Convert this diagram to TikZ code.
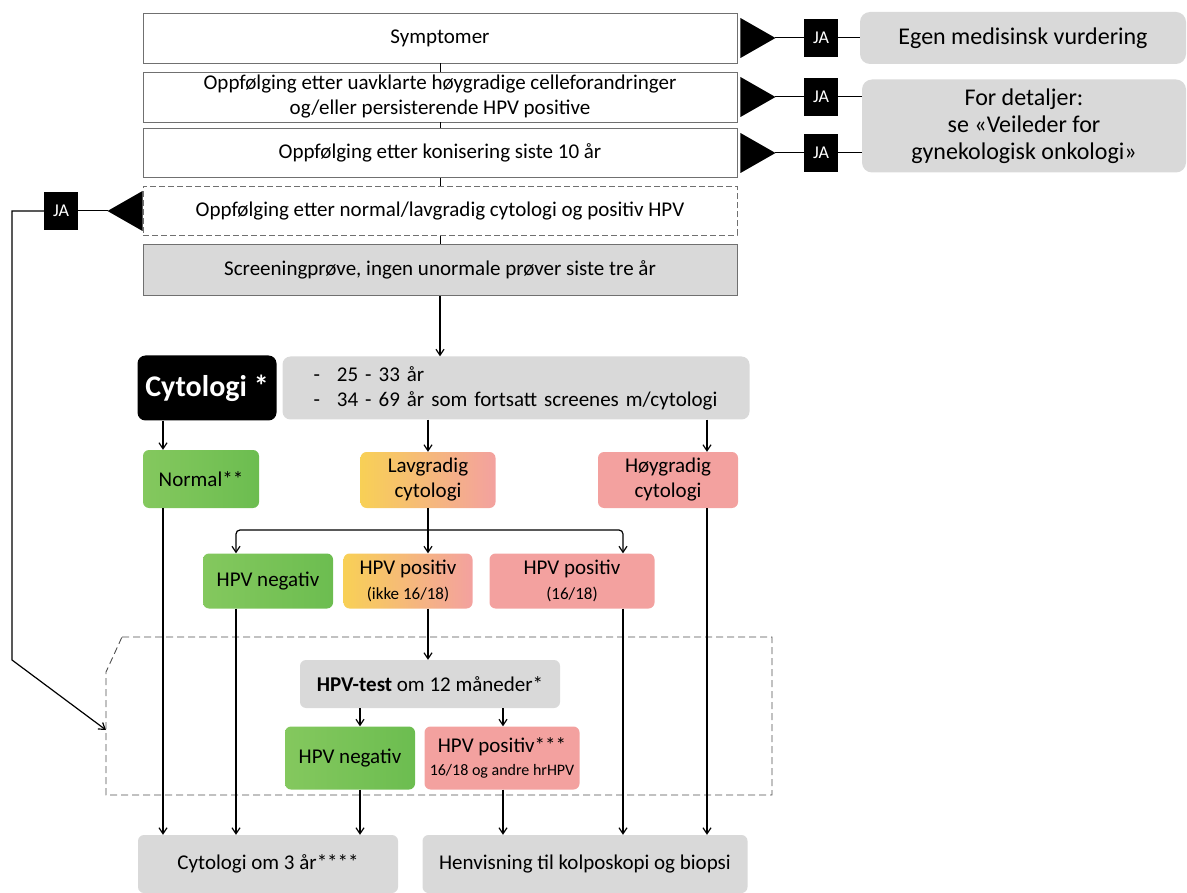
\documentclass[tikz,border=0pt]{standalone}
\usepackage{fontspec}
\setmainfont{Carlito}
\usetikzlibrary{arrows.meta}

\definecolor{boxgray}{HTML}{D9D9D9}
\definecolor{framegray}{HTML}{707070}
\definecolor{dashgray}{HTML}{505050}
\definecolor{grn}{HTML}{6CBD50}
\definecolor{grnlight}{HTML}{84C85E}
\definecolor{yel}{HTML}{F8D056}
\definecolor{pnk}{HTML}{F3A19F}

\begin{document}
\begin{tikzpicture}[x=1pt,y=-1pt,
    txt/.style={font=\fontsize{21}{25}\selectfont},
    stack/.style={txt,draw=framegray,line width=0.9pt,minimum width=594,inner sep=0pt,align=center},
    cbox/.style={txt,rounded corners=6,inner sep=0pt,align=center},
    info/.style={font=\fontsize{24}{27}\selectfont,fill=boxgray,rounded corners=10,inner sep=0pt,align=center},
    jabox/.style={fill=black,text=white,font=\fontsize{18}{20}\selectfont,minimum width=34,minimum height=38,inner sep=0pt},
    arr/.style={-{Straight Barb[length=6pt,width=8pt]},line width=1.2pt},
    link/.style={line width=1pt}]
    \useasboundingbox (0,0) rectangle (1187,893);

    % Place the stack at the top
    \node[stack,minimum height=50] (sym) at (440,38) {Symptomer};
    \node[stack,minimum height=50] (uavk) at (440,97) {Oppfølging etter uavklarte høygradige celleforandringer\\og/eller persisterende HPV positive};
    \node[stack,minimum height=49] (kon) at (440,153) {Oppfølging etter konisering siste 10 år};
    \node[stack,dash pattern=on 6pt off 3pt,minimum height=49] (lavhpv) at (440,211) {Oppfølging etter normal/lavgradig cytologi og positiv HPV};
    \node[stack,fill=boxgray,minimum height=51] (scr) at (440,270) {Screeningprøve, ingen unormale prøver siste tre år};

    % Place the JA boxes and the info boxes
    \node[jabox] (ja1) at (821,38) {JA};
    \node[jabox] (ja2) at (821,97) {JA};
    \node[jabox] (ja3) at (821,153) {JA};
    \node[jabox] (jaL) at (61,211) {JA};
    \node[info,minimum width=326,minimum height=52] (egen) at (1023,38) {Egen medisinsk vurdering};
    \node[info,minimum width=324,minimum height=93] (det) at (1024,126) {For detaljer:\\se «Veileder for\\gynekologisk onkologi»};

    % The triangles
    \foreach \b/\t in {sym/tip1,uavk/tip2,kon/tip3} {
        \fill (\b.east) ++(3,-20) -- ++(35,20) -- ++(-35,20) -- cycle;
        \path (\b.east) ++(38,0) coordinate (\t);
    }
    \fill (lavhpv.west) ++(0,-20) -- ++(-35,20) -- ++(35,20) -- cycle;
    \path (lavhpv.west) ++(-35,0) coordinate (tipL);

    % Cytologi row
    \node[fill=black,text=white,font=\fontsize{30}{36}\selectfont\bfseries,rounded corners=8,minimum width=139,minimum height=65,inner sep=0pt] (cyt) at (207,388) {Cytologi *};
    \node[txt,fill=boxgray,rounded corners=8,minimum height=63,text width=405,inner xsep=31,inner ysep=0pt,align=left] (alder) at (516,388) {-\hspace{17pt}25 - 33 år\\-\hspace{17pt}34 - 69 år som fortsatt screenes m/cytologi};

    % Results
    \node[cbox,left color=grnlight,right color=grn,minimum width=116,minimum height=58] (norm) at (201,479) {Normal**};
    \node[cbox,left color=yel,right color=pnk,minimum width=135,minimum height=56] (lavg) at (428,480) {Lavgradig\\cytologi};
    \node[cbox,fill=pnk,minimum width=140,minimum height=56] (hoyg) at (668,480) {Høygradig\\cytologi};
    \node[cbox,left color=grnlight,right color=grn,minimum width=130,minimum height=55] (hneg) at (268,581) {HPV negativ};
    \node[cbox,left color=yel,right color=pnk,minimum width=129,minimum height=55] (hpos) at (408,581) {HPV positiv\\{\fontsize{17}{20}\selectfont(ikke 16/18)}};
    \node[cbox,fill=pnk,minimum width=165,minimum height=55] (hpos2) at (572,581) {HPV positiv\\{\fontsize{17}{20}\selectfont(16/18)}};

    % The dashed frame
    \draw[dashgray,line width=0.9pt,dash pattern=on 7pt off 4pt] (122,637) -- (772,637) -- (772,795) -- (106,795) -- (106,672) -- cycle;
    \coordinate (frameIn) at (106,730);
    \coordinate (loop) at (12,660);
    \node[cbox,fill=boxgray,minimum width=260,minimum height=48] (test) at (430,684) {\textbf{HPV-test} om 12 måneder*};
    \node[cbox,left color=grnlight,right color=grn,minimum width=130,minimum height=63] (hneg2) at (350,758) {HPV negativ};
    \node[cbox,fill=pnk,minimum width=155,minimum height=63] (hpos3) at (502,758) {HPV positiv***\\[-2pt]{\fontsize{16}{19}\selectfont 16/18 og andre hrHPV}};

    % Bottom boxes
    \node[cbox,fill=boxgray,minimum width=260,minimum height=58] (cyt3) at (268,864) {Cytologi om 3 år****};
    \node[cbox,fill=boxgray,minimum width=325,minimum height=58] (henv) at (585,864) {Henvisning til kolposkopi og biopsi};

    % Columns for the arrows
    \coordinate (colA) at (163,0);
    \coordinate (colB) at (236,0);
    \coordinate (colC) at (360,0);
    \coordinate (colD) at (503,0);
    \coordinate (colE) at (623,0);
    \coordinate (colF) at (707,0);
    \coordinate (split) at (428,530);

    % The lines!
    \draw[link] (sym) -- (uavk);
    \draw[link] (uavk) -- (kon);
    \draw[link] (kon) -- (lavhpv);
    \draw[link] (lavhpv) -- (scr);
    \draw[link] (tip1) -- (ja1);
    \draw[link] (ja1) -- (egen);
    \draw[link] (tip2) -- (ja2);
    \draw[link] (ja2) -- (ja2 -| det.west);
    \draw[link] (tip3) -- (ja3);
    \draw[link] (ja3) -- (ja3 -| det.west);
    \draw[link] (tipL) -- (jaL);
    \draw[arr] (jaL) -| (loop) -- (frameIn);
    \draw[arr] (scr) -- (scr.south |- alder.north);
    \draw[arr] (cyt.south -| colA) -- (norm.north -| colA);
    \draw[arr] (alder.south -| lavg) -- (lavg);
    \draw[arr] (alder.south -| colF) -- (hoyg.north -| colF);
    \draw[line width=1.2pt] (lavg) -- (split);
    \draw[arr,rounded corners=4] (split) -| (hneg.north -| colB);
    \draw[arr,rounded corners=4] (split) -| (hpos2.north -| colE);
    \draw[arr] (split) -- (hpos.north -| split);
    \draw[arr] (hpos.south -| split) -- (test.north -| split);
    \draw[arr] (test.south -| colC) -- (hneg2.north -| colC);
    \draw[arr] (test.south -| colD) -- (hpos3.north -| colD);
    \draw[arr] (norm.south -| colA) -- (cyt3.north -| colA);
    \draw[arr] (hneg.south -| colB) -- (cyt3.north -| colB);
    \draw[arr] (hneg2.south -| colC) -- (cyt3.north -| colC);
    \draw[arr] (hpos3.south -| colD) -- (henv.north -| colD);
    \draw[arr] (hpos2.south -| colE) -- (henv.north -| colE);
    \draw[arr] (hoyg.south -| colF) -- (henv.north -| colF);
\end{tikzpicture}
\end{document}
